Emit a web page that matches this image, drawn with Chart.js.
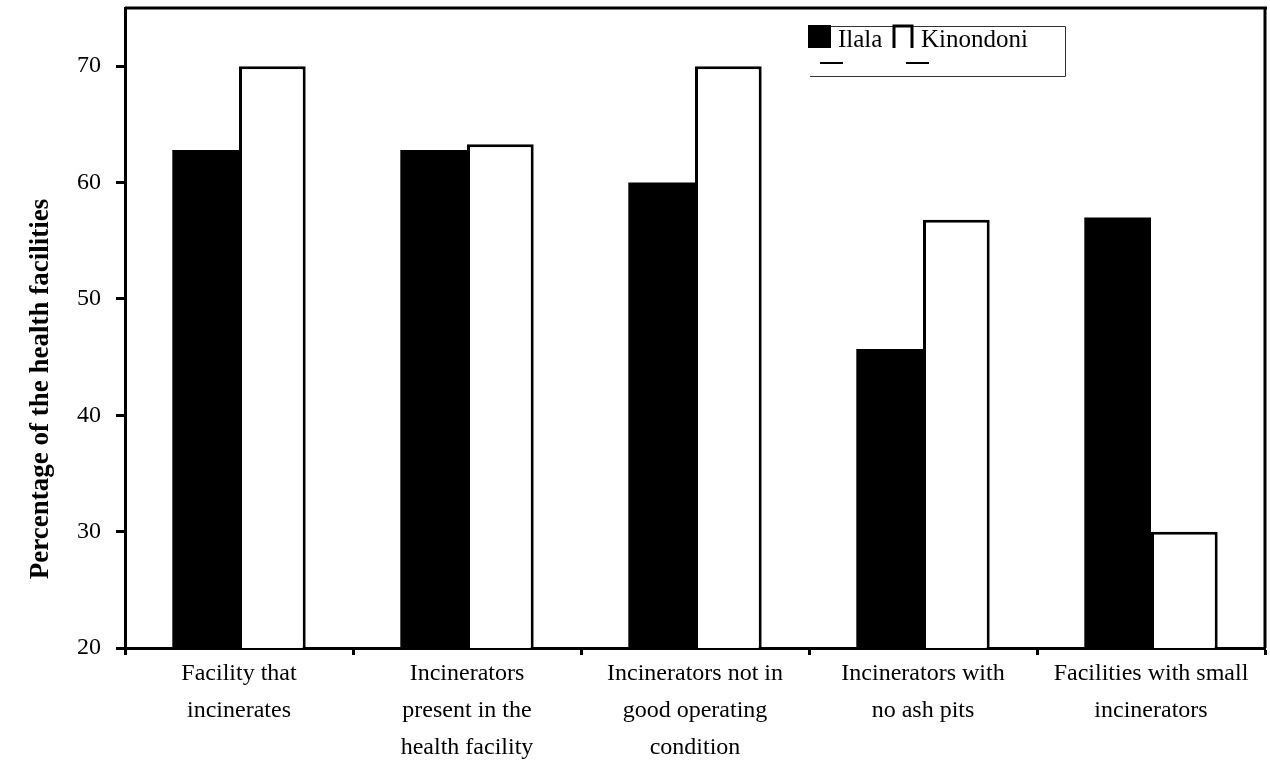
<!DOCTYPE html>
<html>
<head>
<meta charset="utf-8">
<script src="https://cdn.jsdelivr.net/npm/chart.js@4"></script>
<style>
  body { margin: 0; background: #fff; }
  #wrap { width: 1270px; height: 765px; }
</style>
</head>
<body>
<div id="wrap"><canvas id="myChart" width="1270" height="765"></canvas></div>
<script>
var categories = [
    ['Facility that', 'incinerates'],
    ['Incinerators', 'present in the', 'health facility'],
    ['Incinerators not in', 'good operating', 'condition'],
    ['Incinerators with', 'no ash pits'],
    ['Facilities with small', 'incinerators']
];
var ilala = [62.8, 62.8, 60.0, 45.7, 57.0];
var kinondoni = [70.0, 63.3, 70.0, 56.8, 30.0];
var yTicks = [20, 30, 40, 50, 60, 70];
var yTitle = 'Percentage of the health facilities';

var serif = '"Liberation Serif", "Times New Roman", serif';

// box legend + rotated y title + top/right frame, drawn by hand
var extras = {
    id: 'extras',
    afterDraw: function (chart) {
        var ctx = chart.ctx;
        var a = chart.chartArea;
        ctx.save();
        ctx.strokeStyle = '#000';
        ctx.lineWidth = 3;
        ctx.beginPath();
        ctx.moveTo(a.left, a.top);
        ctx.lineTo(a.right + 2, a.top);
        ctx.moveTo(a.right, a.top);
        ctx.lineTo(a.right, a.bottom);
        ctx.stroke();

        // legend box
        ctx.lineWidth = 1;
        ctx.strokeStyle = '#333';
        ctx.beginPath();
        ctx.moveTo(810, 26.5);
        ctx.lineTo(1065.5, 26.5);
        ctx.lineTo(1065.5, 76.5);
        ctx.lineTo(810, 76.5);
        ctx.stroke();

        ctx.fillStyle = '#000';
        ctx.fillRect(808, 25, 23, 23);
        ctx.lineWidth = 3;
        ctx.strokeStyle = '#000';
        ctx.beginPath();
        ctx.moveTo(894, 48);
        ctx.lineTo(894, 26);
        ctx.lineTo(912, 26);
        ctx.lineTo(912, 48);
        ctx.stroke();
        ctx.lineWidth = 2;
        ctx.beginPath();
        ctx.moveTo(820, 63);
        ctx.lineTo(843, 63);
        ctx.moveTo(906, 63);
        ctx.lineTo(929, 63);
        ctx.stroke();

        ctx.font = '25px ' + serif;
        ctx.textBaseline = 'alphabetic';
        ctx.textAlign = 'left';
        ctx.fillText(chart.data.datasets[0].label, 838, 47);
        ctx.fillText(chart.data.datasets[1].label, 921, 47);

        // y title
        ctx.translate(41, 389);
        ctx.rotate(-Math.PI / 2);
        ctx.textAlign = 'center';
        ctx.textBaseline = 'middle';
        ctx.font = 'bold 27px ' + serif;
        ctx.fillText(yTitle, 0, 0);
        ctx.restore();
    }
};

var ctx = document.getElementById('myChart').getContext('2d');
var chart = new Chart(ctx, {
    type: 'bar',
    data: {
        labels: categories,
        datasets: [{
            label: 'Ilala',
            data: ilala,
            backgroundColor: '#000',
            borderColor: '#000',
            borderWidth: 0
        }, {
            label: 'Kinondoni',
            data: kinondoni,
            backgroundColor: '#fff',
            borderColor: '#000',
            borderWidth: { top: 3, left: 3, right: 3, bottom: 0 }
        }]
    },
    options: {
        responsive: false,
        animation: false,
        layout: { padding: { top: 8, right: 5, left: 0, bottom: 0 } },
        categoryPercentage: 0.585,
        barPercentage: 1.0,
        plugins: {
            legend: { display: false },
            tooltip: { enabled: false }
        },
        scales: {
            x: {
                grid: {
                    display: true,
                    drawOnChartArea: false,
                    drawTicks: true,
                    tickLength: 7,
                    tickWidth: 3,
                    tickColor: '#000',
                    offset: true
                },
                border: { color: '#000', width: 3 },
                ticks: {
                    color: '#000',
                    maxRotation: 0,
                    autoSkip: false,
                    padding: 0,
                    font: { family: serif, size: 24, lineHeight: 1.55 }
                },
                afterFit: function (scale) {
                    scale.height = 117;
                    scale.paddingLeft = 0;
                    scale.paddingRight = 0;
                }
            },
            y: {
                min: 20,
                max: 75,
                afterBuildTicks: function (scale) {
                    scale.ticks = yTicks.map(function (v) { return { value: v }; });
                },
                grid: {
                    display: true,
                    drawOnChartArea: false,
                    drawTicks: true,
                    tickLength: 9,
                    tickWidth: 3,
                    tickColor: '#000'
                },
                border: { color: '#000', width: 3 },
                ticks: {
                    color: '#000',
                    padding: 15,
                    font: { family: serif, size: 24 }
                },
                afterFit: function (scale) {
                    scale.width = 125;
                    scale.paddingTop = 0;
                    scale.paddingBottom = 0;
                }
            }
        }
    },
    plugins: [extras]
});
</script>
</body>
</html>
